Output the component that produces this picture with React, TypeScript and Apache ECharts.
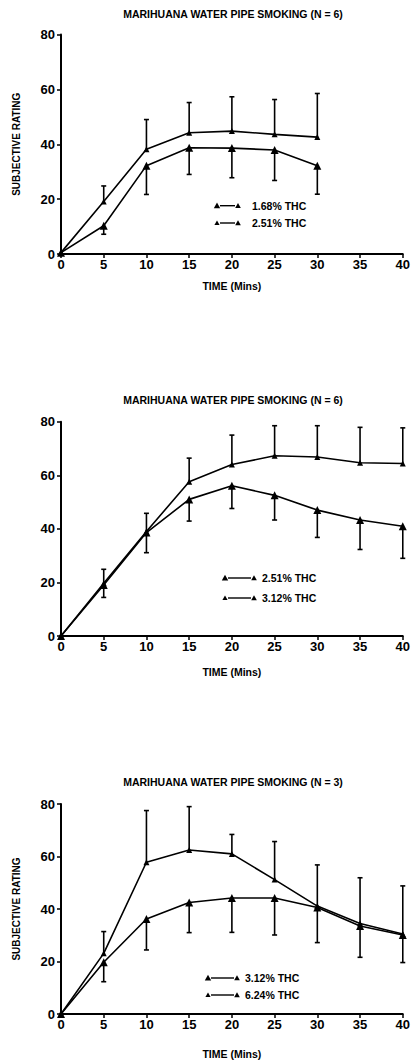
import React, { useEffect, useRef } from "react";
import * as echarts from "echarts";

// ---- data ----
const times = [0, 5, 10, 15, 20, 25, 30, 35, 40];
const times30 = [0, 5, 10, 15, 20, 25, 30];
const yTicks = [0, 20, 40, 60, 80];

const titles = [
  "MARIHUANA WATER PIPE SMOKING (N = 6)",
  "MARIHUANA WATER PIPE SMOKING (N = 6)",
  "MARIHUANA WATER PIPE SMOKING (N = 3)",
];

// Panel 1: 1.68% vs 2.51% THC (to 30 min)
const p1Names = ["1.68% THC", "2.51% THC"];
const p1Low = [0.5, 10.3, 32.2, 38.7, 38.6, 37.9, 32.2];
const p1LowEnd = [null, 7.2, 21.7, 29, 27.8, 26.8, 21.8];
const p1High = [0.5, 19.1, 38.2, 44.2, 44.8, 43.6, 42.6];
const p1HighEnd = [null, 24.8, 49, 55.2, 57.3, 56.3, 58.5];

// Panel 2: 2.51% vs 3.12% THC
const p2Names = ["2.51% THC", "3.12% THC"];
const p2Low = [0, 19, 38.6, 51, 56.1, 52.5, 47, 43.3, 41];
const p2LowEnd = [null, 14.4, 31.1, 42.9, 47.6, 43.3, 36.8, 32.3, 29];
const p2High = [0, 19.7, 39, 57.6, 64, 67.3, 66.8, 64.7, 64.4];
const p2HighEnd = [null, 24.9, 45.8, 66.4, 75, 78.5, 78.5, 77.9, 77.7];

// Panel 3: 3.12% vs 6.24% THC
const p3Names = ["3.12% THC", "6.24% THC"];
const p3Low = [0, 19.7, 36.2, 42.5, 44.2, 44.2, 40.6, 33.5, 30.1];
const p3LowEnd = [null, 12.3, 24.4, 31, 31.1, 30.1, 27.2, 21.6, 19.6];
const p3High = [0, 23.1, 57.8, 62.5, 61, 51.2, 41.1, 34.5, 30.5];
const p3HighEnd = [null, 31.4, 77.5, 79, 68.4, 65.7, 56.8, 51.9, 48.8];

// ---- layout ----
const FONT = "'Liberation Sans', Arial, sans-serif";
const grids = [
  { top: 34.5, height: 219.5, nameGap: 26, yName: true, titleY: 14, legend: { y: [205.7, 223], m: [217, 238], t: 252 } },
  { top: 421.7, height: 214.3, nameGap: 30, yName: false, titleY: 400, legend: { y: [578, 598], m: [225, 254], t: 262 } },
  { top: 804, height: 210, nameGap: 34, yName: true, titleY: 782, legend: { y: [978, 995], m: [208, 237], t: 245 } },
];

function lineSeries(name: string, xs: number[], ys: number[], gi: number, size: number) {
  return {
    type: "line",
    name,
    xAxisIndex: gi,
    yAxisIndex: gi,
    data: xs.map((t, i) => [t, ys[i]]),
    symbol: "triangle",
    symbolSize: size,
    lineStyle: { color: "#000", width: 1.6 },
    itemStyle: { color: "#000" },
    z: 3,
  };
}

function errSeries(xs: number[], ys: number[], ends: (number | null)[], gi: number) {
  const data: number[][] = [];
  xs.forEach((t, i) => {
    const e = ends[i];
    if (e !== null && e !== undefined) data.push([t, ys[i], e]);
  });
  return {
    type: "custom",
    xAxisIndex: gi,
    yAxisIndex: gi,
    data,
    encode: { x: 0, y: [1, 2] },
    z: 2,
    renderItem: (params: any, api: any) => {
      const x = api.value(0);
      const a = api.coord([x, api.value(1)]);
      const b = api.coord([x, api.value(2)]);
      return {
        type: "group",
        children: [
          { type: "line", shape: { x1: a[0], y1: a[1], x2: b[0], y2: b[1] }, style: { stroke: "#000", lineWidth: 1.6 } },
          { type: "line", shape: { x1: b[0] - 2.5, y1: b[1], x2: b[0] + 2.5, y2: b[1] }, style: { stroke: "#000", lineWidth: 1.6 } },
        ],
      };
    },
  };
}

function tri(cx: number, cy: number, s: number) {
  return {
    type: "polygon",
    shape: { points: [[cx, cy - s], [cx - s, cy + s * 0.8], [cx + s, cy + s * 0.8]] },
    style: { fill: "#000" },
  };
}

export default function App() {
  const ref = useRef<HTMLDivElement>(null);
  useEffect(() => {
    if (!ref.current) return;
    const chart = echarts.init(ref.current, null, { renderer: "svg" });

    const panelNames = [p1Names, p2Names, p3Names];
    const graphic: any[] = [];
    grids.forEach((g, gi) => {
      graphic.push({
        type: "text",
        x: 233,
        y: g.titleY,
        style: { text: titles[gi], font: `bold 10.5px ${FONT}`, fill: "#000", textAlign: "center", textVerticalAlign: "middle" },
      });
      g.legend.y.forEach((ly, li) => {
        const s = li === 0 ? 3.2 : 2.6;
        graphic.push(tri(g.legend.m[0], ly, s));
        graphic.push(tri(g.legend.m[1], ly, 2.8));
        graphic.push({
          type: "line",
          shape: { x1: g.legend.m[0] + 3, y1: ly, x2: g.legend.m[1] - 3, y2: ly },
          style: { stroke: "#000", lineWidth: 1.4 },
        });
        graphic.push({
          type: "text",
          x: g.legend.t,
          y: ly,
          style: { text: panelNames[gi][li], font: `bold 10.5px ${FONT}`, fill: "#000", textVerticalAlign: "middle" },
        });
      });
    });

    const option: any = {
      animation: false,
      backgroundColor: "#fff",
      grid: grids.map((g) => ({ left: 61, width: 343, top: g.top, height: g.height, containLabel: false })),
      xAxis: grids.map((g, gi) => ({
        type: "value",
        gridIndex: gi,
        min: 0,
        max: 40,
        interval: 5,
        name: "TIME (Mins)",
        nameLocation: "middle",
        nameGap: g.nameGap,
        nameTextStyle: { fontFamily: FONT, fontWeight: "bold", fontSize: 10.5, color: "#000" },
        axisLine: { show: true, lineStyle: { color: "#000", width: 2 } },
        axisTick: { show: true, length: 4, lineStyle: { color: "#000", width: 1.5 } },
        axisLabel: { fontFamily: FONT, fontWeight: "bold", fontSize: 13, color: "#000", margin: 4 },
        splitLine: { show: false },
      })),
      yAxis: grids.map((g, gi) => ({
        type: "value",
        gridIndex: gi,
        min: 0,
        max: 80,
        interval: 20,
        name: g.yName ? "SUBJECTIVE RATING" : "",
        nameLocation: "middle",
        nameRotate: 90,
        nameGap: 40,
        nameTextStyle: { fontFamily: FONT, fontWeight: "bold", fontSize: 10, color: "#000" },
        axisLine: { show: true, lineStyle: { color: "#000", width: 2 } },
        axisTick: { show: true, length: 4, lineStyle: { color: "#000", width: 1.5 } },
        axisLabel: {
          fontFamily: FONT,
          fontWeight: "bold",
          fontSize: 13,
          color: "#000",
          margin: 6,
          formatter: (v: number) => (yTicks.includes(v) ? String(v) : ""),
        },
        splitLine: { show: false },
      })),
      series: [
        errSeries(times30, p1Low, p1LowEnd, 0),
        errSeries(times30, p1High, p1HighEnd, 0),
        lineSeries(p1Names[0], times30, p1Low, 0, 8),
        lineSeries(p1Names[1], times30, p1High, 0, 6),
        errSeries(times, p2Low, p2LowEnd, 1),
        errSeries(times, p2High, p2HighEnd, 1),
        lineSeries(p2Names[0], times, p2Low, 1, 8),
        lineSeries(p2Names[1], times, p2High, 1, 6),
        errSeries(times, p3Low, p3LowEnd, 2),
        errSeries(times, p3High, p3HighEnd, 2),
        lineSeries(p3Names[0], times, p3Low, 2, 8),
        lineSeries(p3Names[1], times, p3High, 2, 6),
      ],
      graphic,
    };
    chart.setOption(option);
    return () => chart.dispose();
  }, []);
  return <div ref={ref} style={{ position: "absolute", left: 0, top: 0, width: 413, height: 1061 }} />;
}
